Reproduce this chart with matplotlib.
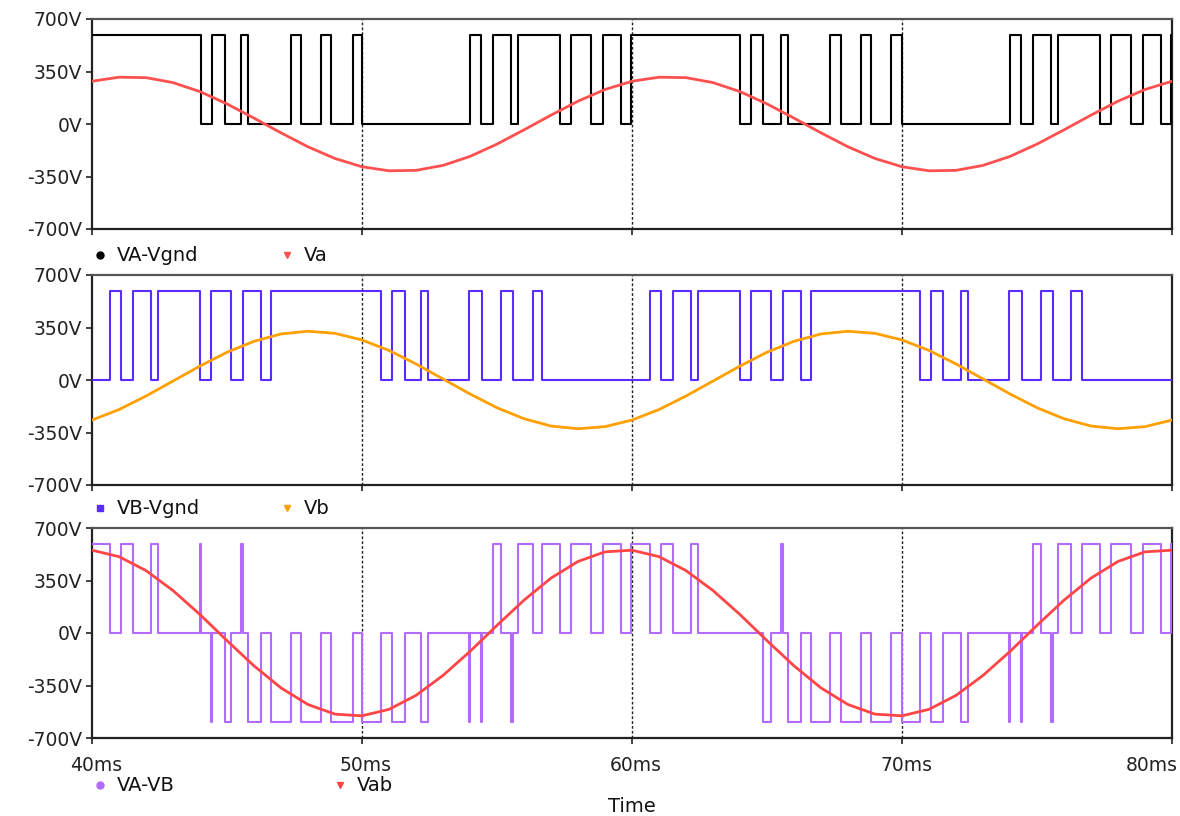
import numpy as np
import matplotlib.pyplot as plt
from matplotlib.transforms import ScaledTranslation

# time axis for the sine traces (ms)
t_sine = np.arange(40, 81, 1)

va = [285, 312, 309, 276, 216, 134, 39, -59, -152, -230,
      -285, -312, -309, -276, -216, -134, -39, 59, 152, 230,
      285, 312, 309, 276, 216, 134, 39, -59, -152, -230,
      -285, -312, -309, -276, -216, -134, -39, 59, 152, 230, 285]
vb = [-267, -197, -107, -7, 93, 185, 258, 307, 325, 311,
      267, 197, 107, 7, -93, -185, -258, -307, -325, -311,
      -267, -197, -107, -7, 93, 185, 258, 307, 325, 311,
      267, 197, 107, 7, -93, -185, -258, -307, -325, -311, -267]
vab = [552, 509, 416, 283, 123, -51, -219, -366, -477, -541,
       -552, -509, -416, -283, -123, 51, 219, 366, 477, 541,
       552, 509, 416, 283, 123, -51, -219, -366, -477, -541,
       -552, -509, -416, -283, -123, 51, 219, 366, 477, 541, 552]

# switching instants (ms) of the leg voltages, level toggles at each one
v_dc = 595
va_start_high = True
va_edges = [44.03, 44.44, 44.91, 45.53, 45.78, 47.36, 47.75, 48.49, 48.86, 49.67, 50.00,
            53.99, 54.42, 54.85, 55.53, 55.78, 57.32, 57.75, 58.49, 58.93, 59.60, 59.97,
            63.99, 64.42, 64.85, 65.53, 65.78, 67.32, 67.75, 68.49, 68.86, 69.60, 70.00,
            73.99, 74.42, 74.85, 75.53, 75.78, 77.32, 77.75, 78.49, 78.93, 79.60, 79.97]
vb_start_high = False
vb_edges = [40.66, 41.09, 41.52, 42.20, 42.45, 43.99, 44.42, 45.16, 45.60, 46.27, 46.64,
            50.70, 51.11, 51.58, 52.20, 52.45, 53.97, 54.46, 55.16, 55.58, 56.34, 56.67,
            60.66, 61.09, 61.52, 62.20, 62.45, 63.99, 64.42, 65.16, 65.60, 66.27, 66.64,
            70.66, 71.09, 71.52, 72.20, 72.45, 73.97, 74.46, 75.16, 75.58, 76.27, 76.67]

yticks = [-700, -350, 0, 350, 700]
xticks = [40, 50, 60, 70, 80]


def level(edges, start_high, t):
    n = np.searchsorted(edges, t, side='right')
    high = (n % 2 == 0) == start_high
    return np.where(high, v_dc, 0.0)


t_steps = np.array(sorted(set([40.0] + va_edges + vb_edges + [80.0])))
va_leg = level(va_edges, va_start_high, t_steps)
vb_leg = level(vb_edges, vb_start_high, t_steps)

fig = plt.figure(figsize=(11.8, 8.16), dpi=100)
W, H = 1180, 816
FS = 13.5


def make_ax(top, bottom):
    ax = fig.add_axes([92 / W, 1 - bottom / H, 1080 / W, (bottom - top) / H])
    ax.set_xlim(40, 80)
    ax.set_ylim(-700, 700)
    ax.set_yticks(yticks)
    ax.set_yticklabels([f"{v}V" for v in yticks])
    ax.set_xticks(xticks)
    for x in [50, 60, 70]:
        ax.axvline(x, color='#222222', lw=1.0, ls=(0, (2, 1.5)), zorder=1)
    for s in ax.spines.values():
        s.set_linewidth(1.6)
        s.set_color('#222222')
    ax.spines['top'].set_color('#555555')
    ax.tick_params(axis='both', labelsize=FS, length=4, width=1.2, pad=3, colors='#222222')
    return ax


def legend_row(ax, y, entries):
    for xm, marker, color, label in entries:
        ax.plot([xm], [y], marker=marker, color=color, ms=5, transform=ax.transAxes,
                clip_on=False, ls='none')
        ax.text(xm + 0.0155, y, label, transform=ax.transAxes, fontsize=14,
                va='center', ha='left', color='#111111')


ax1 = make_ax(19, 229)
ax1.step(t_steps, va_leg, where='post', color='black', lw=1.5, zorder=3)
ax1.plot(t_sine, va, color='#ff5050', lw=2.0, zorder=4)
ax1.set_xticklabels([])
legend_row(ax1, -0.124, [(0.0074, 'o', 'black', 'VA-Vgnd'), (0.1806, 'v', '#ff5050', 'Va')])

ax2 = make_ax(275, 485)
ax2.step(t_steps, vb_leg, where='post', color='#5a2cff', lw=1.5, zorder=3)
ax2.plot(t_sine, vb, color='#ffa000', lw=2.0, zorder=4)
ax2.set_xticklabels([])
legend_row(ax2, -0.11, [(0.0074, 's', '#5a2cff', 'VB-Vgnd'), (0.1806, 'v', '#ffa000', 'Vb')])

ax3 = make_ax(528, 738)
ax3.step(t_steps, va_leg - vb_leg, where='post', color='#b36bff', lw=1.5, zorder=3)
ax3.plot(t_sine, vab, color='#ff4545', lw=2.0, zorder=4)
ax3.set_xticklabels([f"{x}ms" for x in xticks])
ax3.tick_params(axis='x', pad=9)
labels = ax3.get_xticklabels()
for lab in labels[:-1]:
    lab.set_transform(lab.get_transform() + ScaledTranslation(4 / 100, 0, fig.dpi_scale_trans))
labels[-1].set_horizontalalignment('right')
labels[-1].set_transform(labels[-1].get_transform() + ScaledTranslation(6 / 100, 0, fig.dpi_scale_trans))
legend_row(ax3, -0.224, [(0.0074, 'o', '#b36bff', 'VA-VB'), (0.2296, 'v', '#ff4545', 'Vab')])
fig.text(632 / W, 1 - 806 / H, 'Time', ha='center', va='center', fontsize=14, color='#111111')

fig.savefig('out.png', dpi=100)
